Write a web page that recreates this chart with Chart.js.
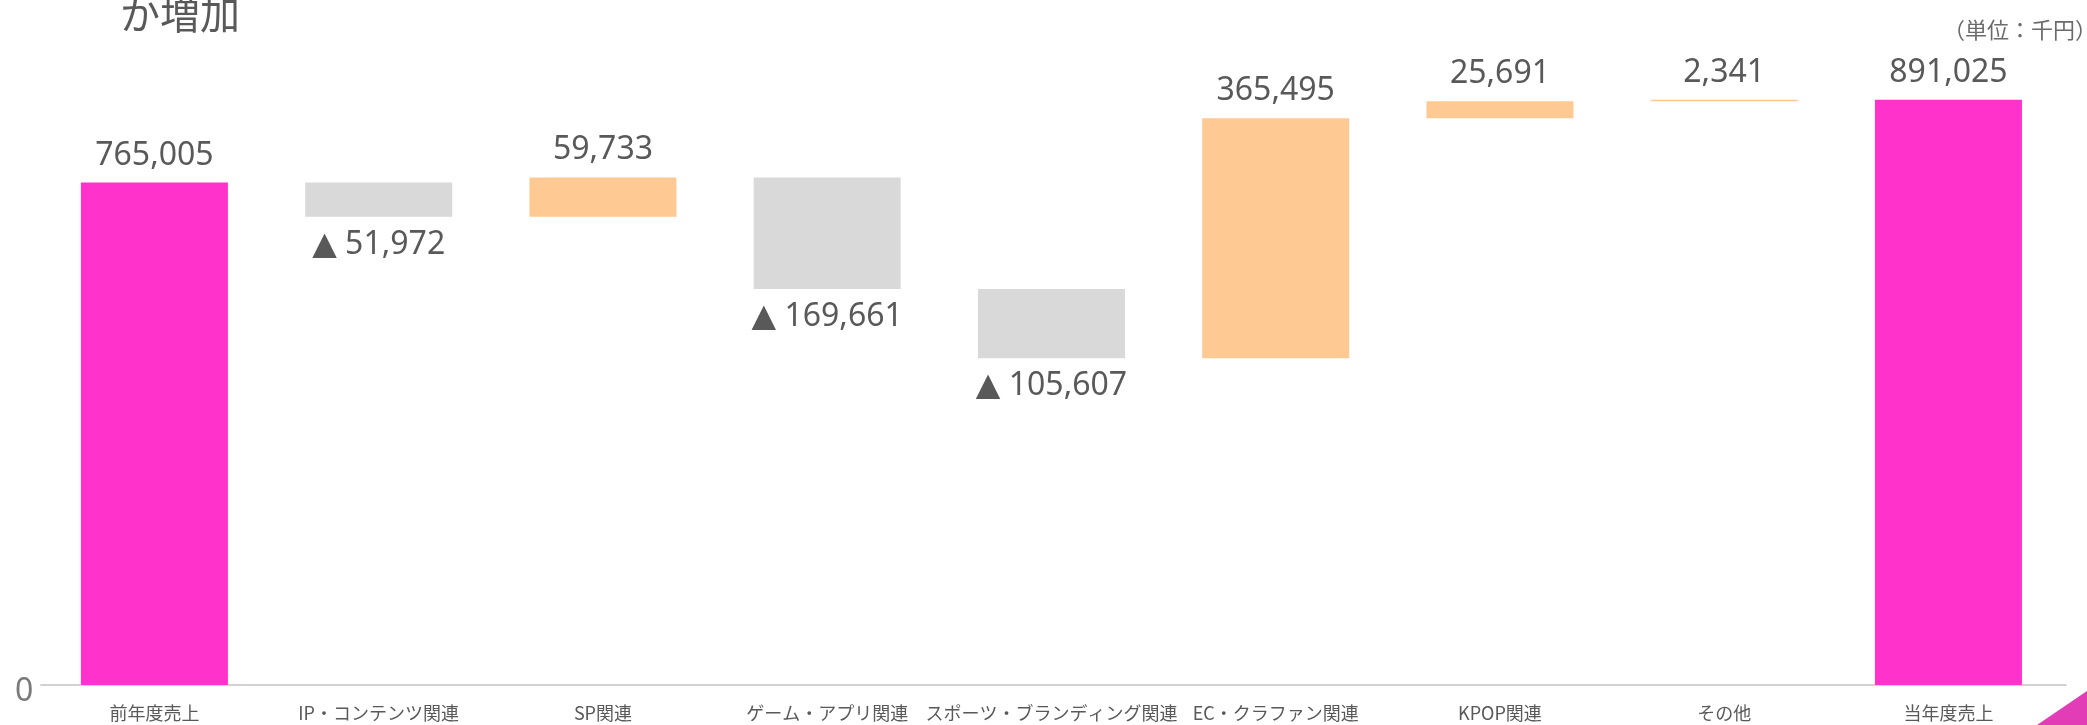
<!DOCTYPE html>
<html lang="ja">
<head>
<meta charset="utf-8">
<title>売上増減 ウォーターフォール</title>
<script src="https://cdn.jsdelivr.net/npm/chart.js@4.4.1/dist/chart.umd.min.js"></script>
<style>
  html, body { margin: 0; padding: 0; background: #ffffff; }
  #wrap { width: 2087px; height: 725px; position: relative; }
  canvas { display: block; }
</style>
</head>
<body>
<div id="wrap"><canvas id="c" width="2087" height="725"></canvas></div>
<script>
// ---- data (unit: 千円) ----
const categories = ['前年度売上', 'IP・コンテンツ関連', 'SP関連', 'ゲーム・アプリ関連', 'スポーツ・ブランディング関連', 'EC・クラファン関連', 'KPOP関連', 'その他', '当年度売上'];
const values = [765005, -51972, 59733, -169661, -105607, 365495, 25691, 2341, 891025];
const kinds = ['total', 'delta', 'delta', 'delta', 'delta', 'delta', 'delta', 'delta', 'total'];
const yTicks = [0];
const titleText = 'か増加';
const unitText = '（単位：千円）';

// colours
const COLOR_TOTAL = '#FF33CC';
const COLOR_UP = '#FFC993';
const COLOR_DOWN = '#D9D9D9';
const TEXT = '#595959';

// floating ranges built from the values
const ranges = [];
let running = 0;
values.forEach((v, i) => {
  if (kinds[i] === 'total') { ranges.push([0, v]); running = v; }
  else { ranges.push([running, running + v]); running += v; }
});
const barColors = values.map((v, i) => kinds[i] === 'total' ? COLOR_TOTAL : (v >= 0 ? COLOR_UP : COLOR_DOWN));
const fmt = n => n.toLocaleString('en-US');

const decorPlugin = {
  id: 'decor',
  beforeDatasetsDraw(chart) {
    const {ctx, chartArea} = chart;
    const y0 = chart.scales.y.getPixelForValue(0);
    ctx.save();
    ctx.strokeStyle = '#D2D2D2';
    ctx.lineWidth = 2;
    ctx.beginPath();
    ctx.moveTo(chartArea.left - 2, y0);
    ctx.lineTo(chartArea.right + 6, y0);
    ctx.stroke();
    ctx.restore();
  },
  afterDatasetsDraw(chart) {
    const {ctx} = chart;
    const meta = chart.getDatasetMeta(0);
    const ys = chart.scales.y;
    ctx.save();
    ctx.fillStyle = TEXT;
    ctx.font = '32px "Noto Sans", "DejaVu Sans", sans-serif';
    ctx.textAlign = 'center';
    ctx.textBaseline = 'alphabetic';
    meta.data.forEach((bar, i) => {
      const [a, b] = ranges[i];
      const topPx = ys.getPixelForValue(Math.max(a, b));
      const botPx = ys.getPixelForValue(Math.min(a, b));
      const v = values[i];
      if (v >= 0) ctx.fillText(fmt(v), bar.x, topPx - 18);
      else ctx.fillText('▲ ' + fmt(-v), bar.x, botPx + 37);
    });
    ctx.restore();
  },
  afterDraw(chart) {
    const {ctx, width, height} = chart;
    ctx.save();
    // title fragment (cut at top edge)
    ctx.fillStyle = TEXT;
    ctx.font = '40px "Noto Sans CJK JP", sans-serif';
    ctx.textAlign = 'left';
    ctx.textBaseline = 'alphabetic';
    ctx.fillText(titleText, 120, 29);
    // unit label
    ctx.font = '22px "Noto Sans CJK JP", sans-serif';
    ctx.fillStyle = '#6b6b6b';
    ctx.textAlign = 'right';
    ctx.fillText(unitText, width + 10, 38);
    // corner decoration
    ctx.fillStyle = '#E23CB6';
    ctx.beginPath();
    ctx.moveTo(width - 50, height);
    ctx.lineTo(width, height - 34);
    ctx.lineTo(width, height);
    ctx.closePath();
    ctx.fill();
    ctx.restore();
  }
};

new Chart(document.getElementById('c'), {
  type: 'bar',
  data: {
    labels: categories,
    datasets: [{
      data: ranges,
      backgroundColor: barColors,
      borderWidth: 0,
      borderSkipped: false,
      categoryPercentage: 1,
      barPercentage: 0.6555
    }]
  },
  options: {
    responsive: false,
    devicePixelRatio: 1,
    animation: false,
    layout: { padding: { top: 27.5, right: 26.4, left: 0, bottom: 0 } },
    plugins: { legend: { display: false }, tooltip: { enabled: false }, title: { display: false } },
    scales: {
      x: {
        grid: { display: false, drawTicks: false },
        border: { display: false },
        ticks: {
          autoSkip: false, maxRotation: 0, minRotation: 0, padding: 17,
          color: TEXT,
          font: { family: '"Noto Sans CJK JP", sans-serif', size: 18 }
        },
        afterFit(s) { s.height = 40; }
      },
      y: {
        min: 0, max: 1000000,
        grid: { display: false, drawTicks: false },
        border: { display: false },
        afterBuildTicks(s) { s.ticks = yTicks.map(v => ({ value: v })); },
        ticks: {
          padding: 9, labelOffset: 7,
          color: '#7a7a7a',
          font: { family: '"Noto Sans", sans-serif', size: 32 },
          callback: v => String(v)
        },
        afterFit(s) { s.width = 42.3; }
      }
    }
  },
  plugins: [decorPlugin]
});
</script>
</body>
</html>
